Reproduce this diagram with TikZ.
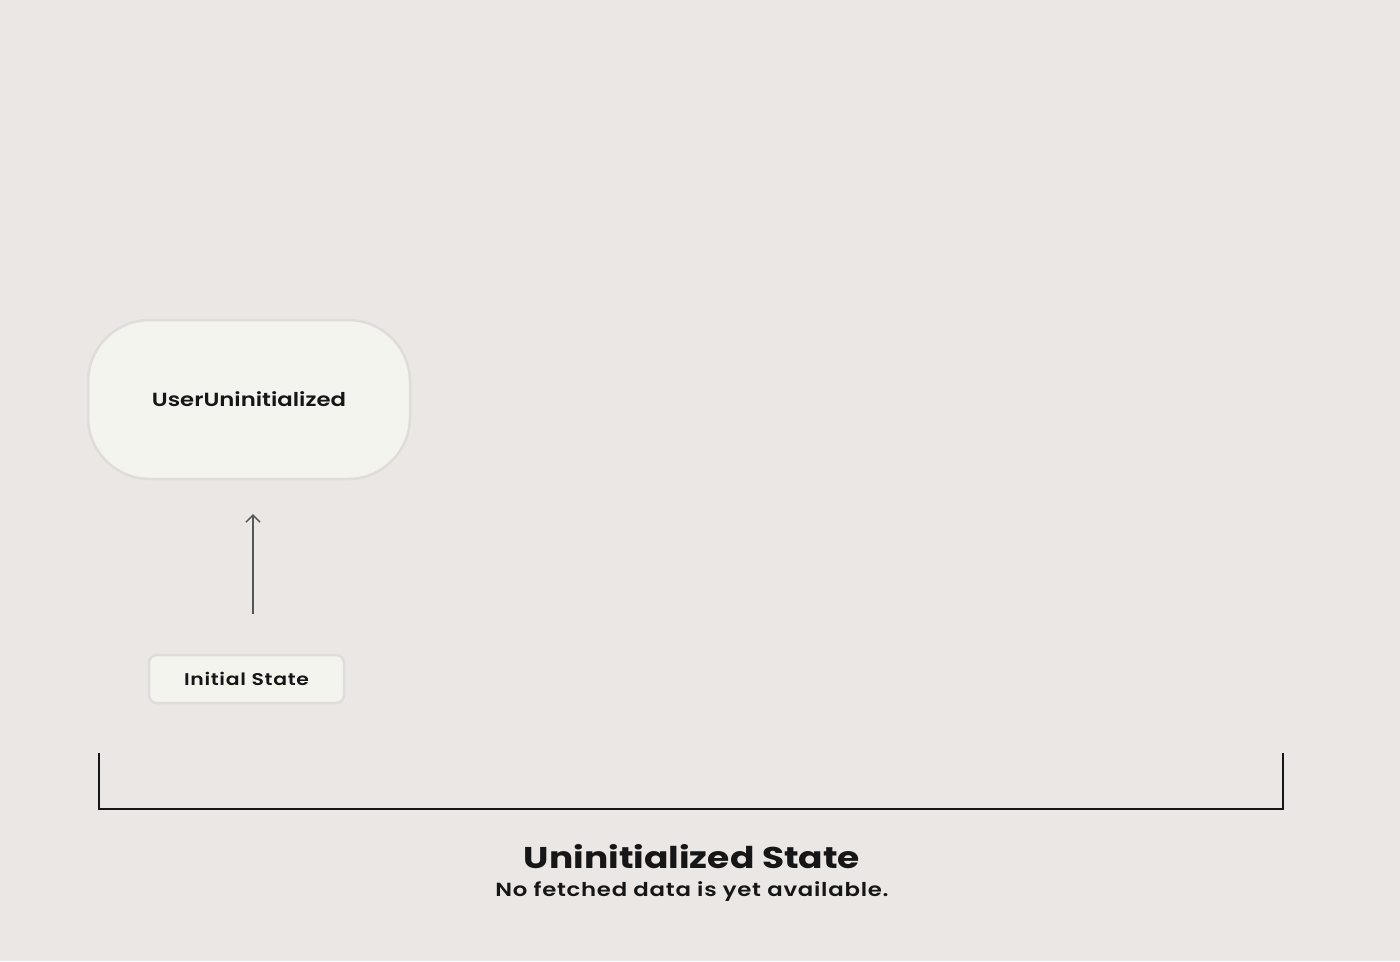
\documentclass[tikz,border=0pt]{standalone}
\usepackage{fontspec}
\setmainfont{Poppins}[UprightFont=* SemiBold, BoldFont=* Bold, FakeStretch=1.2]
\usetikzlibrary{arrows.meta}
\definecolor{bg}{HTML}{EAE7E4}
\definecolor{boxfill}{HTML}{F4F4EF}
\definecolor{boxline}{HTML}{E0DDD8}
\definecolor{ink}{HTML}{161616}
\definecolor{arrowgray}{HTML}{555555}
\tikzset{
  statebox/.style={draw=boxline, line width=2.5pt, fill=boxfill, rounded corners=62pt,
    minimum width=322pt, minimum height=159pt, font=\fontsize{19}{22}\selectfont, text=ink},
  labelbox/.style={draw=boxline, line width=2.5pt, fill=boxfill, rounded corners=8pt,
    minimum width=195pt, minimum height=48pt, font=\fontsize{17}{20}\selectfont\addfontfeature{LetterSpace=4}, text=ink},
  flow/.style={draw=arrowgray, line width=1.5pt, -{Straight Barb[length=7pt,width=14pt]}},
  bracketline/.style={draw=ink, line width=2.5pt},
}
\begin{document}
\begin{tikzpicture}[x=1pt,y=-1pt]
\fill[bg] (0,0) rectangle (1400,961);
\useasboundingbox (0,0) rectangle (1400,961);
\node[statebox] (user) at (249,399.5) {UserUninitialized};
\node[labelbox] (init) at (246.5,679) {Initial State};
\coordinate (arrstart) at (253,614);
\coordinate (arrend) at (253,514);
\draw[flow] (arrstart) -- (arrend);
\coordinate (bl) at (99,753);
\coordinate (blc) at (99,809);
\coordinate (brc) at (1283,809);
\coordinate (br) at (1283,753);
\draw[bracketline] (bl) -- (blc) -- (brc) -- (br);
\node[text=ink, font=\fontsize{30}{34}\bfseries] (title) at (692,857) {Uninitialized State};
\node[text=ink, font=\fontsize{19}{22}\selectfont\addfontfeature{LetterSpace=4}] (sub) at (692,892) {No fetched data is yet available.};
\end{tikzpicture}
\end{document}
